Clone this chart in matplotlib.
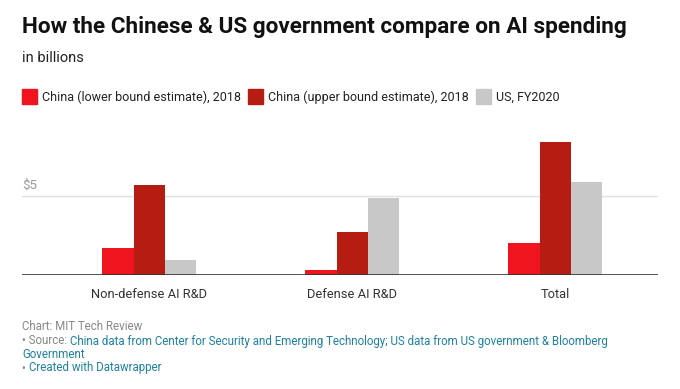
import matplotlib
matplotlib.use("Agg")
import matplotlib.pyplot as plt
import numpy as np
from matplotlib.patches import Rectangle

plt.rcParams['font.family'] = ['Roboto', 'DejaVu Sans']

categories = ["Non-defense AI R&D", "Defense AI R&D", "Total"]
series_names = ["China (lower bound estimate), 2018",
                "China (upper bound estimate), 2018",
                "US, FY2020"]
china_low = [1.7, 0.3, 2.0]
china_high = [5.7, 2.7, 8.4]
us_2020 = [0.95, 4.85, 5.9]
colors = ["#f0141e", "#b51d13", "#c8c8c8"]

W, H = 680, 389
fig = plt.figure(figsize=(W / 100, H / 100), dpi=100)

def fx(px):
    return px / W

def fy(py):
    return 1 - py / H

# axes: baseline at y=275, value 9 at top (15.8 px per unit)
ax = fig.add_axes([fx(22), fy(275), fx(658) - fx(22), (9 * 15.8) / H])
x = np.arange(len(categories))
bw = 0.153
for i, (vals, c) in enumerate(zip([china_low, china_high, us_2020], colors)):
    ax.bar(x + (i - 1) * bw, vals, width=bw, color=c, zorder=3)

ax.set_xlim(-0.626, 2.507)
ax.set_ylim(0, 9)
ax.axhline(5, color="#e0e0e0", lw=1, zorder=1)
ax.axhline(0, color="#333333", lw=1.2, zorder=4)
for s in ax.spines.values():
    s.set_visible(False)
ax.set_yticks([])
ax.set_xticks(x)
ax.set_xticklabels(categories, fontsize=9.3, color="#333333")
ax.tick_params(axis="x", length=0, pad=9)
ax.text(-0.626, 5.25, "$5", fontsize=9.5, color="#999999", ha="left", va="bottom")

# title / subtitle
fig.text(fx(22), fy(27), "How the Chinese & US government compare on AI spending",
         fontsize=16.2, fontweight="bold", color="#111111", va="center", ha="left")
fig.text(fx(22), fy(58), "in billions", fontsize=10.5, color="#222222", va="center", ha="left")

# legend
leg_x = [22, 248, 476]
for lx, name, c in zip(leg_x, series_names, colors):
    fig.patches.append(Rectangle((fx(lx), fy(104)), fx(15), 15 / H,
                                 transform=fig.transFigure, color=c, figure=fig))
    fig.text(fx(lx + 20), fy(97), name, fontsize=9, color="#222222", va="center", ha="left")

# footer with coloured segments
renderer = fig.canvas.get_renderer()
gray = "#888888"
blue = "#1d81a2"

def segs(y, parts):
    xpos = fx(22)
    for txt, col in parts:
        t = fig.text(xpos, fy(y), txt, fontsize=8.3, color=col, va="center", ha="left")
        bb = t.get_window_extent(renderer=renderer)
        xpos += bb.width / W

segs(326, [("Chart: MIT Tech Review", gray)])
segs(341, [("• Source: ", gray),
           ("China data from Center for Security and Emerging Technology; US data from US government & Bloomberg", blue)])
segs(354, [("Government", blue)])
segs(368, [("• ", gray), ("Created with Datawrapper", blue)])

fig.savefig("out.png", dpi=100, facecolor="white")
